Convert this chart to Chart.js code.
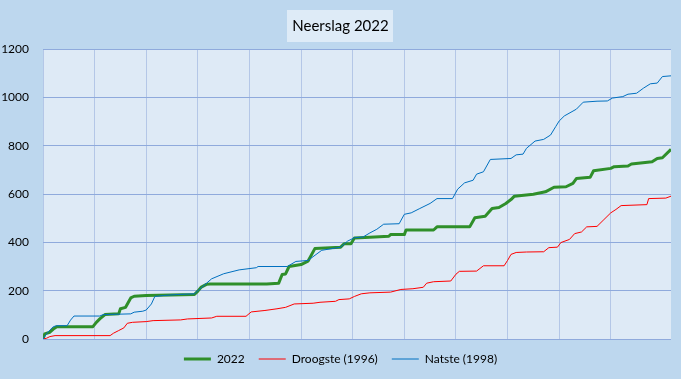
<!DOCTYPE html>
<html>
<head>
<meta charset="utf-8">
<title>Neerslag 2022</title>
<script src="https://cdn.jsdelivr.net/npm/chart.js@4.4.1/dist/chart.umd.min.js"></script>
<style>
  html, body { margin: 0; padding: 0; background: #bdd7ee; }
  #wrap { width: 681px; height: 379px; position: relative; }
</style>
</head>
<body>
<div id="wrap"><canvas id="chartCanvas"></canvas></div>
<script>
const titel = 'Neerslag 2022';
const reeksNamen = ['2022', 'Droogste (1996)', 'Natste (1998)'];

const dagen2022 = [0, 1, 4, 6, 8, 29, 31, 33, 36, 44, 45, 48, 51, 53, 60, 88, 90, 92, 95, 97,
  130, 137, 139, 141, 143, 150, 154, 158, 164, 173, 175, 179, 181, 190, 201, 202, 210, 211, 227, 229,
  248, 251, 257, 261, 265, 269, 272, 274, 285, 292, 297, 304, 308, 310, 318, 320, 330, 332, 340, 342,
  354, 357, 360, 365];
const mm2022 = [0, 21, 28, 41, 51, 51, 69, 83, 101, 104, 125, 131, 170, 177, 180, 184, 198, 215, 226, 228,
  228, 231, 267, 269, 300, 308, 322, 374, 377, 380, 394, 394, 418, 421, 425, 432, 432, 451, 451, 464,
  464, 502, 508, 540, 544, 561, 577, 591, 599, 609, 628, 630, 644, 664, 669, 696, 706, 713, 716, 724,
  733, 747, 750, 785];

const dagen1996 = [0, 2, 4, 7, 39, 41, 44, 47, 49, 52, 60, 64, 80, 84, 98, 101, 118, 121, 129, 136,
  141, 146, 157, 161, 170, 172, 178, 181, 185, 190, 202, 208, 215, 221, 223, 227, 237, 240, 242, 252,
  256, 268, 270, 272, 275, 281, 291, 294, 299, 301, 306, 309, 313, 316, 322, 326, 330, 333, 336, 351,
  352, 362, 365];
const mm1996 = [0, 3, 10, 14, 14, 24, 35, 46, 65, 69, 72, 76, 79, 83, 87, 94, 94, 112, 118, 125,
  131, 145, 148, 152, 156, 163, 166, 176, 187, 191, 194, 205, 208, 214, 231, 237, 240, 268, 280, 281,
  303, 303, 325, 350, 358, 360, 361, 378, 380, 399, 412, 436, 443, 464, 466, 494, 522, 536, 552, 556,
  581, 583, 591];

const dagen1998 = [0, 2, 4, 6, 8, 14, 16, 18, 33, 35, 51, 53, 58, 60, 63, 65, 70, 78, 88, 92,
  98, 105, 114, 124, 125, 142, 147, 154, 162, 173, 177, 181, 186, 190, 194, 198, 207, 210, 214, 219,
  225, 229, 238, 241, 245, 250, 252, 256, 260, 272, 275, 279, 281, 286, 291, 295, 298, 300, 303, 310,
  314, 322, 328, 331, 337, 340, 345, 349, 353, 357, 360, 365];
const mm1998 = [0, 21, 37, 51, 55, 55, 78, 95, 95, 101, 104, 111, 115, 120, 145, 176, 180, 184, 187, 212,
  249, 270, 286, 295, 300, 300, 321, 325, 367, 380, 405, 419, 422, 439, 454, 475, 477, 516, 522, 540,
  561, 581, 581, 620, 646, 657, 682, 692, 743, 747, 762, 765, 789, 819, 826, 844, 879, 902, 923, 951,
  980, 984, 985, 997, 1003, 1013, 1017, 1038, 1056, 1059, 1086, 1089];

// x-as: 0..365 dagen, rasterlijn om de 30 dagen; y-as 0..1200 mm
const dagMax = 365;
const dagStap = 30;
const mmMax = 1200;
const mmStap = 200;

const lettertype = 'Lato';

function punten(dagen, mm) {
    return dagen.map((d, i) => ({ x: d, y: mm[i] }));
}

// Achtergronden: buitenkant, plotvlak en het kader achter de titel
const achtergrond = {
    id: 'achtergrond',
    beforeDraw(chart) {
        const { ctx, chartArea: a, width, height } = chart;
        ctx.save();
        ctx.fillStyle = '#bdd7ee';
        ctx.fillRect(0, 0, width, height);
        ctx.fillStyle = '#deeaf6';
        ctx.fillRect(a.left, a.top, a.right - a.left, a.bottom - a.top);
        const t = chart.titleBlock;
        ctx.font = '15px ' + lettertype;
        const w = ctx.measureText(titel).width + 10;
        const cx = (t.left + t.right) / 2;
        ctx.fillStyle = '#deebf7';
        ctx.fillRect(Math.round(cx - w / 2), 10, Math.round(w), 32);
        ctx.restore();
    }
};

function renderChart() {
    const ctx = document.getElementById('chartCanvas').getContext('2d');
    const config = {
        type: 'line',
        data: {
            datasets: [
                {
                    label: reeksNamen[0],
                    data: punten(dagen2022, mm2022),
                    borderColor: '#2f8f2a',
                    backgroundColor: '#2f8f2a',
                    borderWidth: 3,
                    order: 3,
                },
                {
                    label: reeksNamen[1],
                    data: punten(dagen1996, mm1996),
                    borderColor: '#ff0000',
                    backgroundColor: '#ff0000',
                    borderWidth: 1,
                    order: 2,
                },
                {
                    label: reeksNamen[2],
                    data: punten(dagen1998, mm1998),
                    borderColor: '#0070c0',
                    backgroundColor: '#0070c0',
                    borderWidth: 1,
                    order: 1,
                },
            ],
        },
        options: {
            responsive: true,
            maintainAspectRatio: false,
            animation: false,
            elements: {
                point: { radius: 0, hoverRadius: 0 },
                line: { tension: 0, borderJoinStyle: 'round' },
            },
            layout: { padding: { top: 0, left: 0, right: 0, bottom: 4 } },
            plugins: {
                title: {
                    display: true,
                    text: titel,
                    color: '#000',
                    font: { family: lettertype, size: 15, weight: 'normal' },
                    padding: { top: 17, bottom: 14 },
                },
                legend: {
                    position: 'bottom',
                    labels: {
                        usePointStyle: true,
                        pointStyle: 'line',
                        pointStyleWidth: 27,
                        padding: 14,
                        color: '#000',
                        font: { family: lettertype, size: 12 },
                        sort: (a, b) => a.datasetIndex - b.datasetIndex,
                    },
                },
                tooltip: { enabled: false },
            },
            scales: {
                x: {
                    type: 'linear',
                    min: 0,
                    max: dagMax,
                    ticks: { display: false, stepSize: dagStap },
                    afterBuildTicks: (s) => { s.ticks = s.ticks.filter(t => t.value % dagStap === 0); },
                    grid: { color: '#b4c7e7', drawTicks: false },
                    border: { display: false },
                },
                y: {
                    min: 0,
                    max: mmMax,
                    afterFit: (s) => { s.width = 43; },
                    ticks: {
                        stepSize: mmStap,
                        padding: 14,
                        color: '#000',
                        font: { family: lettertype, size: 12 },
                        callback: (v) => String(v),
                    },
                    grid: { color: '#8faadc', drawTicks: false },
                    border: { display: false },
                },
                // lege as rechts: alleen voor de marge naast het plotvlak
                rechts: {
                    position: 'right',
                    min: 0,
                    max: mmMax,
                    afterFit: (s) => { s.width = 10; },
                    ticks: { display: false },
                    grid: { display: false },
                    border: { display: false },
                },
            },
        },
        plugins: [achtergrond],
    };
    new Chart(ctx, config);
}

document.addEventListener('DOMContentLoaded', renderChart);
</script>
</body>
</html>
